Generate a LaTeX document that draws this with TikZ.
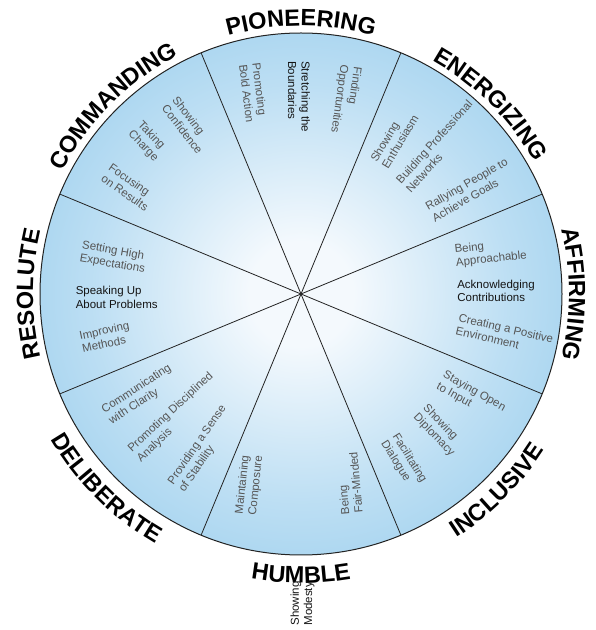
\documentclass[tikz,border=0pt]{standalone}
\usepackage{fontspec}
\setmainfont{Liberation Sans}
\setsansfont{Liberation Sans}
\usetikzlibrary{decorations.text,calc}
\definecolor{wheelblue}{RGB}{112,186,230}
\definecolor{wheelcore}{RGB}{244,249,253}
\definecolor{itemgray}{RGB}{85,85,85}
\definecolor{itemblack}{RGB}{20,20,20}
\definecolor{rim}{RGB}{35,35,35}
\pgfdeclareradialshading{wheelshade}{\pgfpoint{0bp}{0bp}}{color(0bp)=(wheelcore); color(5bp)=(wheelcore); color(20bp)=(wheelblue!42!wheelcore); color(35bp)=(wheelblue!75!wheelcore); color(50bp)=(wheelblue); color(100bp)=(wheelblue)}
\newcommand\lblfont{\bfseries\fontsize{23.5}{24}\selectfont}
\newcommand\toplabel[2]{%
  \path[decorate, decoration={text along path, text align=center, text={|\lblfont|#2}}]
    ($(C)+(#1+40:268)$) arc[start angle=#1+40, end angle=#1-40, radius=268];}
\newcommand\botlabel[2]{%
  \path[decorate, decoration={text along path, text align=center, text={|\lblfont|#2}}]
    ($(C)+(#1-40:289)$) arc[start angle=#1-40, end angle=#1+40, radius=289];}
\tikzset{
  item/.style={font=\fontsize{11.5}{13.3}\selectfont, text=itemgray, align=left, inner sep=0pt},
  keyitem/.style={item, text=itemblack},
  divider/.style={draw=rim, line width=0.8pt},
  rimline/.style={draw=rim, line width=1pt},
}
\begin{document}
\begin{tikzpicture}[x=1pt,y=1pt]
\useasboundingbox (0,0) rectangle (596,630);
\coordinate (C) at (301,336);
\shade[shading=wheelshade] (C) circle (261);
\foreach \a in {22.5,67.5,...,337.5} \draw[divider] (C) -- ($(C)+(\a:261)$);
\draw[rimline] (C) circle (261);

% outer labels
\toplabel{90}{PIONEERING}
\toplabel{135}{COMMANDING}
\toplabel{45}{ENERGIZING}
\toplabel{0}{AFFIRMING}
\toplabel{180}{RESOLUTE}
\botlabel{-90}{HUMBLE}
\botlabel{-45}{INCLUSIVE}
\botlabel{-135}{DELIBERATE}

% PIONEERING
\node[item, rotate=-83] (p1) at (253.3,537.3) {Promoting\\Bold Action};
\node[keyitem, rotate=-90] (p2) at (299,533.3) {Stretching the\\Boundaries};
\node[item, rotate=-98] (p3) at (345.7,530) {Finding\\Opportunities};
% ENERGIZING
\node[item, rotate=59] (e1) at (394.4,491.7) {Showing\\Enthusiasm};
\node[item, rotate=48] (e2) at (439,483.7) {Building Professional\\Networks};
\node[item, rotate=30] (e3) at (469.9,440.3) {Rallying People to\\Achieve Goals};
% AFFIRMING
\node[item, rotate=6] (a1) at (490.7,377.2) {Being\\Approachable};
\node[keyitem] (a2) at (496,339.3) {Acknowledging\\Contributions};
\node[item, rotate=-13] (a3) at (504.5,295.3) {Creating a Positive\\Environment};
% INCLUSIVE
\node[item, rotate=-29.5] (i1) at (471,232.7) {Staying Open\\to Input};
\node[item, rotate=-46] (i2) at (438.7,199.5) {Showing\\Diplomacy};
\node[item, rotate=-58] (i3) at (403.7,168.2) {Facilitating\\Dialogue};
% HUMBLE
\node[item, rotate=84] (h1) at (249.5,145) {Maintaining\\Composure};
\node[item, rotate=95] (h2) at (349.3,146.7) {Being\\Fair-Minded};
\node[keyitem, rotate=90] (h3) at (302.5,26.5) {Showing\\Modesty};
% DELIBERATE
\node[item, rotate=33] (d1) at (140.2,235.3) {Communicating\\with Clarity};
\node[item, rotate=43] (d2) at (175.3,212.7) {Promoting Disciplined\\Analysis};
\node[item, rotate=55.5] (d3) at (202.8,181.3) {Providing a Sense\\of Stability};
% RESOLUTE
\node[item, rotate=-10] (r1) at (113.5,372.3) {Setting High\\Expectations};
\node[keyitem] (r2) at (116.7,332.7) {Speaking Up\\About Problems};
\node[item, rotate=12] (r3) at (105.7,293) {Improving\\Methods};
% COMMANDING
\node[item, rotate=-52] (c1) at (187.7,504.8) {Showing\\Confidence};
\node[item, rotate=-46] (c2) at (147.9,488.3) {Taking\\Charge};
\node[item, rotate=-35] (c3) at (128.7,442.8) {Focusing\\on Results};
\end{tikzpicture}
\end{document}
